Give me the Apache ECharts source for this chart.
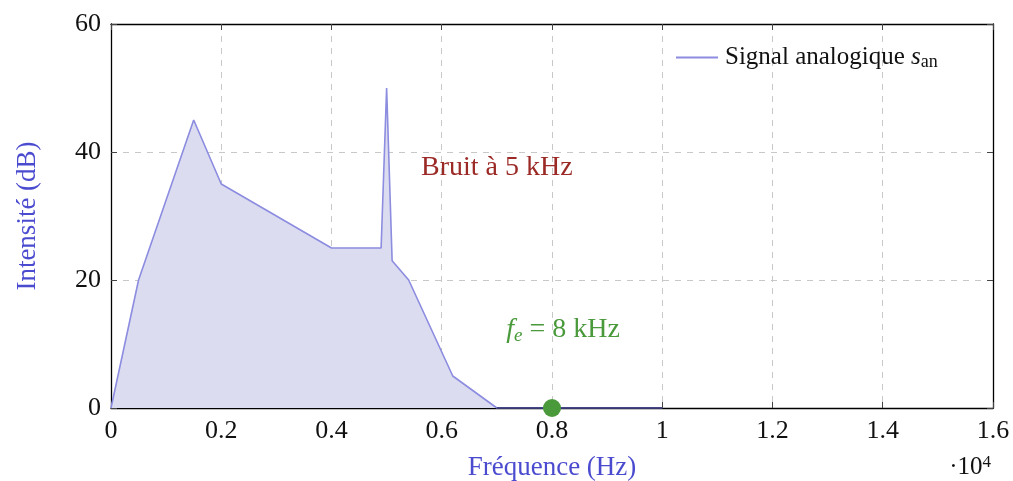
<!DOCTYPE html>
<html><head><meta charset="utf-8">
<script src="https://cdn.jsdelivr.net/npm/echarts@6/dist/echarts.min.js"></script>
<style>html,body{margin:0;padding:0;background:#fff}#c{width:1013px;height:481px}</style>
</head><body><div id="c"></div>
<script>
const freq = [0, 0.05, 0.15, 0.2, 0.4, 0.49, 0.5, 0.51, 0.54, 0.62, 0.7, 1.0];
const intensity = [0, 20, 45, 35, 25, 25, 50, 23, 20, 5, 0, 0];
const samplePoint = [[0.8, 0]];
const xTicks = [0, 0.2, 0.4, 0.6, 0.8, 1, 1.2, 1.4, 1.6];
const yTicks = [0, 20, 40, 60];
const noteNoise = {text: 'Bruit à 5 kHz', at: [0.7, 37.5]};
const noteFe = {at: [0.82, 12.2]};

const FONT = 'Liberation Serif';
const chart = echarts.init(document.getElementById('c'));
const lineCol = '#8c8ce0';
const frameLine = {show: true, onZero: false, lineStyle: {color: '#000', width: 1.3}};
chart.setOption({
  animation: false,
  grid: {left: 111, right: 20, top: 24, bottom: 73, outerBoundsMode: 'none', containLabel: false},
  legend: {
    show: true, left: 671, top: 40, itemWidth: 42, itemHeight: 2, itemGap: 0,
    icon: 'rect',
    data: ['Signal analogique'],
    itemStyle: {color: lineCol},
    formatter: () => '{t|Signal analogique }{i|s}{s|an}',
    textStyle: {padding: [0, 0, 0, 2], rich: {
      t: {fontFamily: FONT, fontSize: 25, color: '#111'},
      i: {fontFamily: FONT, fontSize: 25, fontStyle: 'italic', color: '#111'},
      s: {fontFamily: FONT, fontSize: 18, color: '#111', verticalAlign: 'bottom', padding: [10, 0, 0, 0]}
    }}
  },
  xAxis: [{
    type: 'value', min: 0, max: 1.6, interval: 0.2,
    axisLine: frameLine,
    axisTick: {show: true, inside: true, length: 6, lineStyle: {color: '#444'}},
    axisLabel: {fontFamily: FONT, fontSize: 26, color: '#111', margin: 10,
      formatter: v => String(xTicks.find(t => Math.abs(t - v) < 1e-9) ?? v)},
    splitLine: {show: true, lineStyle: {type: [6, 6], color: '#c8c8c8', width: 1}},
    name: 'Fréquence (Hz)', nameLocation: 'middle', nameGap: 46,
    nameTextStyle: {fontFamily: FONT, fontSize: 27, color: '#4b4bd0'}
  }, {
    type: 'value', min: 0, max: 1.6, interval: 0.2, position: 'top',
    axisLine: frameLine, axisLabel: {show: false}, splitLine: {show: false},
    axisTick: {show: true, inside: true, length: 6, lineStyle: {color: '#444'}}
  }],
  yAxis: [{
    type: 'value', min: 0, max: 60, interval: 20,
    axisLine: frameLine,
    axisTick: {show: true, inside: true, length: 6, lineStyle: {color: '#444'}},
    axisLabel: {fontFamily: FONT, fontSize: 26, color: '#111', margin: 10},
    splitLine: {show: true, lineStyle: {type: [6, 6], color: '#c8c8c8', width: 1}},
    name: 'Intensité (dB)', nameLocation: 'middle', nameGap: 70,
    nameTextStyle: {fontFamily: FONT, fontSize: 27, color: '#4b4bd0'}
  }, {
    type: 'value', min: 0, max: 60, interval: 20, position: 'right',
    axisLine: frameLine, axisLabel: {show: false}, splitLine: {show: false},
    axisTick: {show: true, inside: true, length: 6, lineStyle: {color: '#444'}}
  }],
  series: [{
    name: 'Signal analogique', type: 'line', data: freq.map((x, i) => [x, intensity[i]]),
    showSymbol: false, symbol: 'none', z: 3,
    lineStyle: {color: lineCol, width: 1.6},
    itemStyle: {color: lineCol},
    areaStyle: {color: '#dcdcf1', opacity: 1},
    markPoint: {
      symbol: 'circle', symbolSize: 1, itemStyle: {color: 'rgba(0,0,0,0)'},
      data: [
        {coord: noteNoise.at, label: {show: true, formatter: noteNoise.text, fontFamily: FONT, fontSize: 28, color: '#9b2a26', position: 'inside'}},
        {coord: noteFe.at, label: {show: true, formatter: '{i|f}{s|e}{t| = 8 kHz}', position: 'inside', rich: {
          i: {fontFamily: FONT, fontSize: 28, fontStyle: 'italic', color: '#4a9a3c'},
          s: {fontFamily: FONT, fontSize: 19, fontStyle: 'italic', color: '#4a9a3c', verticalAlign: 'bottom', padding: [12, 0, 0, 0]},
          t: {fontFamily: FONT, fontSize: 28, color: '#4a9a3c'}
        }}}
      ]
    }
  }, {
    name: 'baseline', type: 'line', data: [[0.7, 0], [1.0, 0]], symbol: 'none', z: 4,
    lineStyle: {color: '#2a2a6a', width: 1.6}, silent: true
  }, {
    name: 'fe', type: 'scatter', data: samplePoint, symbolSize: 18, z: 5,
    itemStyle: {color: '#4a9a3c', opacity: 1}
  }],
  graphic: [{
    type: 'text', right: 22, top: 454,
    style: {text: '{t|·10}{s|4}', rich: {
      t: {fontFamily: FONT, fontSize: 25, fill: '#111'},
      s: {fontFamily: FONT, fontSize: 17, fill: '#111', verticalAlign: 'top', padding: [0, 0, 10, 0]}
    }}
  }]
});
</script></body></html>
